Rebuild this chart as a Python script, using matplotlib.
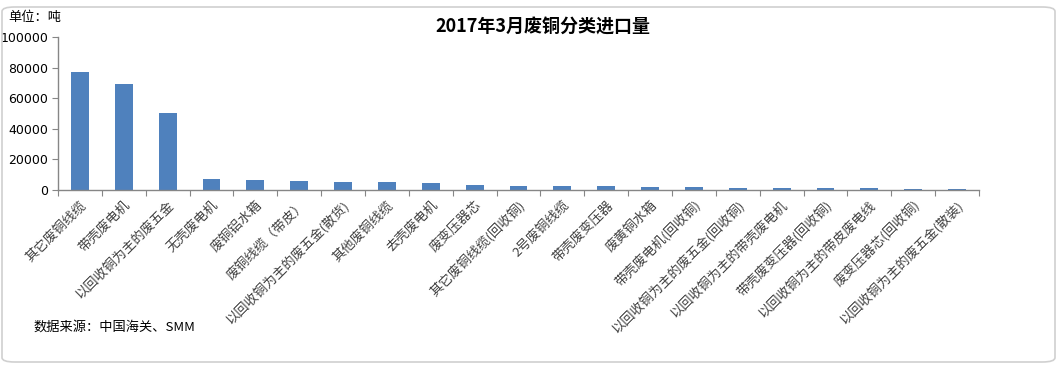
import matplotlib
matplotlib.use("Agg")
import matplotlib.pyplot as plt
from matplotlib.patches import FancyBboxPatch
import numpy as np

plt.rcParams['font.family'] = ['Noto Sans CJK SC', 'DejaVu Sans']

categories = [
    "其它废铜线缆", "带壳废电机", "以回收铜为主的废五金", "无壳废电机", "废铜铝水箱",
    "废铜线缆（带皮）", "以回收铜为主的废五金(散货)", "其他废铜线缆", "去壳废电机", "废变压器芯",
    "其它废铜线缆(回收铜)", "2号废铜线缆", "带壳废变压器", "废黄铜水箱", "带壳废电机(回收铜)",
    "以回收铜为主的废五金(回收铜)", "以回收铜为主的带壳废电机", "带壳废变压器(回收铜)",
    "以回收铜为主的带皮废电线", "废变压器芯(回收铜)", "以回收铜为主的废五金(散装)",
]
values = [77000, 69000, 50000, 7200, 6600, 5900, 5300, 5300, 4600, 3300,
          2600, 2600, 2600, 2000, 2000, 1300, 1300, 1300, 1300, 700, 700]
yticks = [0, 20000, 40000, 60000, 80000, 100000]

W, H = 1060, 365
fig = plt.figure(figsize=(W / 100, H / 100), dpi=100)
ax = fig.add_axes([58 / W, 1 - 190 / H, (979 - 58) / W, (190 - 37) / H])

x = np.arange(len(categories))
ax.bar(x, values, width=0.41, color="#4F81BD")
ax.set_xlim(-0.5, len(categories) - 0.5)
ax.set_ylim(0, 100000)
ax.set_yticks(yticks)
ax.set_yticklabels([str(v) for v in yticks], fontsize=9, family=['DejaVu Sans'])

ax.set_xticks(np.arange(-0.5, len(categories), 1.0))
ax.set_xticklabels([])
ax.set_xticks(x, minor=True)
ax.set_xticklabels(categories, minor=True, rotation=45, ha='right',
                   rotation_mode='anchor', fontsize=9.5, color='#404040')
ax.tick_params(axis='x', which='minor', length=0, pad=6)
ax.tick_params(axis='x', which='major', length=4, color='#868686', direction='out')
ax.tick_params(axis='y', length=4, color='#868686', direction='out', pad=3)

for s in ['top', 'right']:
    ax.spines[s].set_visible(False)
for s in ['left', 'bottom']:
    ax.spines[s].set_color('#868686')
    ax.spines[s].set_linewidth(1)

fig.text(543 / W, 1 - 27 / H, "2017年3月废铜分类进口量", ha='center', va='center',
         fontsize=13, fontweight='bold')
fig.text(8 / W, 1 - 18 / H, "单位：吨", ha='left', va='center', fontsize=9.5)
fig.text(33 / W, 1 - 327 / H, "数据来源：中国海关、SMM", ha='left', va='center', fontsize=9.5)

border = FancyBboxPatch((2 / W, 3 / H), (1053 / W), (355 / H),
                        boxstyle="round,pad=0,rounding_size=0.012",
                        transform=fig.transFigure, fill=False,
                        edgecolor='#D0D0D0', linewidth=1.2)
fig.patches.append(border)

fig.savefig("out.png", dpi=100)
